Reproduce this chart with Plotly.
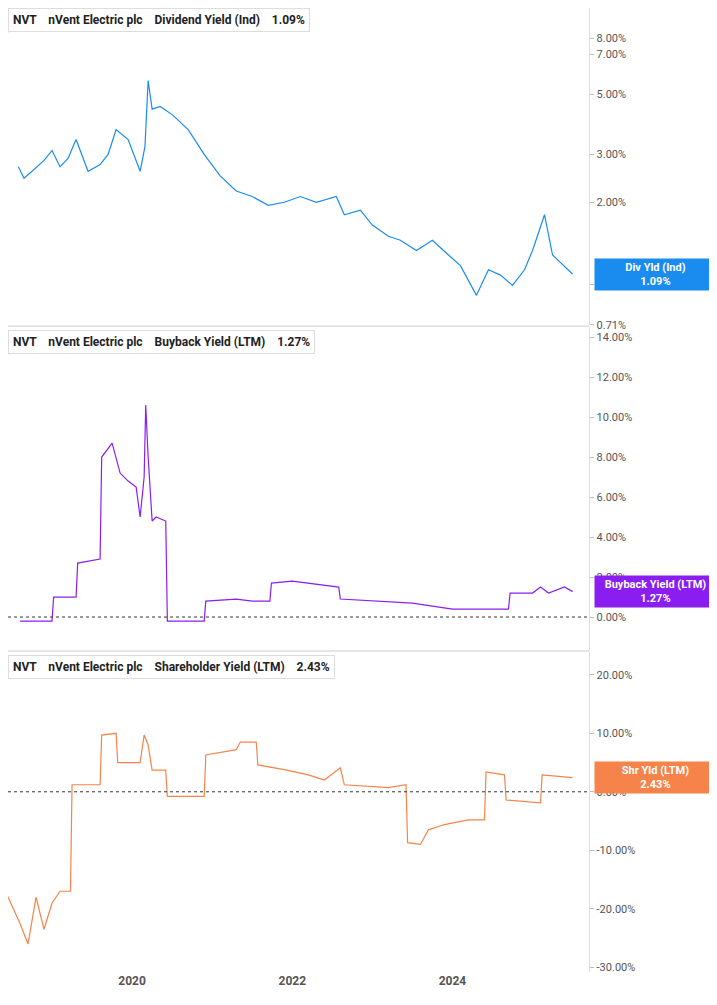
import pandas as pd
import plotly.graph_objects as go
from plotly.subplots import make_subplots

# fractional years -> values
div_t = [2018.58, 2018.65, 2018.75, 2018.9, 2019.0, 2019.1, 2019.2, 2019.3, 2019.45, 2019.6, 2019.7, 2019.8,
         2019.95, 2020.1, 2020.16, 2020.2, 2020.25, 2020.35, 2020.5, 2020.7, 2020.9, 2021.1, 2021.3, 2021.5,
         2021.7, 2021.9, 2022.1, 2022.3, 2022.55, 2022.65, 2022.85, 2023.0, 2023.2, 2023.35, 2023.55, 2023.75,
         2023.95, 2024.1, 2024.3, 2024.45, 2024.6, 2024.75, 2024.9, 2025.0, 2025.15, 2025.25, 2025.35, 2025.5]
div_v = [2.7, 2.45, 2.6, 2.85, 3.1, 2.7, 2.9, 3.4, 2.6, 2.75, 3.0, 3.7,
         3.4, 2.6, 3.2, 5.6, 4.4, 4.5, 4.2, 3.7, 3.0, 2.5, 2.2, 2.1,
         1.95, 2.0, 2.1, 2.0, 2.1, 1.8, 1.87, 1.65, 1.5, 1.45, 1.33, 1.45,
         1.28, 1.17, 0.91, 1.13, 1.08, 0.99, 1.13, 1.33, 1.8, 1.28, 1.2, 1.09]

bb_t = [2018.6, 2019.0, 2019.02, 2019.3, 2019.32, 2019.6, 2019.62, 2019.75, 2019.85, 2019.95, 2020.05,
        2020.1, 2020.15, 2020.17, 2020.2, 2020.25, 2020.3, 2020.42, 2020.44, 2020.9, 2020.92, 2021.3,
        2021.5, 2021.72, 2021.74, 2022.0, 2022.58, 2022.6, 2023.5, 2024.0, 2024.7, 2024.72, 2025.0,
        2025.1, 2025.2, 2025.4, 2025.5]
bb_v = [-0.2, -0.2, 1.0, 1.0, 2.7, 2.9, 8.0, 8.7, 7.2, 6.8, 6.5,
        5.0, 7.0, 10.6, 8.0, 4.8, 5.0, 4.8, -0.2, -0.2, 0.8, 0.9,
        0.8, 0.8, 1.7, 1.8, 1.5, 0.9, 0.7, 0.4, 0.4, 1.2, 1.2,
        1.5, 1.2, 1.5, 1.27]

shr_t = [2018.35, 2018.45, 2018.6, 2018.7, 2018.8, 2018.9, 2019.0, 2019.1, 2019.23, 2019.25, 2019.6,
         2019.62, 2019.8, 2019.82, 2020.1, 2020.15, 2020.2, 2020.25, 2020.42, 2020.44, 2020.9, 2020.92,
         2021.3, 2021.35, 2021.55, 2021.57, 2021.9, 2022.2, 2022.4, 2022.6, 2022.65, 2023.2, 2023.42,
         2023.44, 2023.6, 2023.7, 2023.9, 2024.2, 2024.4, 2024.42, 2024.65, 2024.67, 2025.1, 2025.12, 2025.5]
shr_v = [-16, -18, -22.5, -26, -18, -23.5, -19, -17, -17, 1.2, 1.2,
         9.7, 10, 5, 5, 9.7, 8, 3.7, 3.7, -0.8, -0.8, 6.3,
         7.2, 8.5, 8.5, 4.6, 3.8, 2.9, 2.0, 4.1, 1.2, 0.7, 1.2,
         -8.7, -9, -6.5, -5.6, -4.8, -4.8, 3.4, 2.9, -1.4, -1.9, 2.9, 2.43]


def to_dates(ts):
    return [pd.Timestamp("2018-01-01") + pd.Timedelta(days=(t - 2018) * 365.25) for t in ts]


BLUE, PURPLE, ORANGE = "#1a8cf0", "#8a1ef0", "#f5834a"
GREY = "#555555"
XEND = 0.82

fig = make_subplots(rows=3, cols=1, shared_xaxes=True, vertical_spacing=0.003)
fig.add_trace(go.Scatter(x=to_dates(div_t), y=div_v, line=dict(color=BLUE, width=1.2)), 1, 1)
fig.add_trace(go.Scatter(x=to_dates(bb_t), y=bb_v, line=dict(color=PURPLE, width=1.2)), 2, 1)
fig.add_trace(go.Scatter(x=to_dates(shr_t), y=shr_v, line=dict(color=ORANGE, width=1.2)), 3, 1)

fig.update_layout(
    width=709, height=989, margin=dict(l=0, r=0, t=0, b=25),
    plot_bgcolor="white", paper_bgcolor="white", showlegend=False,
    font=dict(family="Roboto", size=11, color=GREY),
)
fig.update_xaxes(domain=[0, XEND], range=to_dates([2018.45, 2025.71]), showgrid=False,
                 tickvals=to_dates([2020, 2022, 2024]), ticktext=["<b>2020</b>", "<b>2022</b>", "<b>2024</b>"],
                 tickfont=dict(size=12, color=GREY, family="Roboto"))
bb_ticks = list(range(0, 15, 2))
shr_ticks = [-30, -20, -10, 0, 10, 20]
fig.update_layout(
    yaxis=dict(domain=[0.671, 1], type="log", range=[-0.1505, 1.015], side="right",
               tickvals=[0.71, 1, 2, 3, 5, 7, 8],
               ticktext=["0.71%", "1.00%", "2.00%", "3.00%", "5.00%", "7.00%", "8.00%"]),
    yaxis2=dict(domain=[0.334, 0.669], range=[-1.65, 14.5], side="right",
                tickvals=bb_ticks, ticktext=[f"{v:.2f}%" for v in bb_ticks]),
    yaxis3=dict(domain=[0, 0.332], range=[-30.8, 23.9], side="right",
                tickvals=shr_ticks, ticktext=[f"{v:.2f}%" for v in shr_ticks]),
)
for ax in ["yaxis", "yaxis2", "yaxis3"]:
    fig.layout[ax].update(showgrid=False, ticks="outside", ticklen=4, tickcolor="#bbb",
                          showline=True, linecolor="#ddd", zeroline=False)

# separators and zero lines
for yy in [0.670, 0.333]:
    fig.add_shape(type="line", xref="paper", yref="paper", x0=0, x1=XEND, y0=yy, y1=yy,
                  line=dict(color="#ccc", width=1))
for r in ["y2", "y3"]:
    fig.add_shape(type="line", xref="paper", yref=r, x0=0, x1=XEND, y0=0, y1=0,
                  line=dict(color="#333", width=1, dash="dot"))

# header boxes
heads = [(1.003, BLUE, "NVT    nVent Electric plc    Dividend Yield (Ind)    1.09%"),
         (0.669, PURPLE, "NVT    nVent Electric plc    Buyback Yield (LTM)    1.27%"),
         (0.332, ORANGE, "NVT    nVent Electric plc    Shareholder Yield (LTM)    2.43%")]
for yy, col, txt in heads:
    fig.add_annotation(xref="paper", yref="paper", x=0.0, y=yy - 0.003, xanchor="left", yanchor="top",
                       text=f"<b>{txt}</b>", showarrow=False, font=dict(size=12, color="#222"),
                       bgcolor="white", bordercolor="#ddd", borderwidth=1, borderpad=4)
    fig.add_shape(type="rect", xref="paper", yref="paper", x0=0.0, x1=0.004,
                  y0=yy - 0.028, y1=yy - 0.004, fillcolor=col, line_width=0)

# end-value tags
tags = [("y", 0.0374, BLUE, "Div Yld (Ind)<br>1.09%"),
        ("y2", 1.27, PURPLE, "Buyback Yield (LTM)<br>1.27%"),
        ("y3", 2.43, ORANGE, "Shr Yld (LTM)<br>2.43%")]
for r, v, col, txt in tags:
    fig.add_annotation(xref="paper", yref=r, x=1, y=v, xanchor="right",
                       text=f"<b>{txt}</b>", showarrow=False, bgcolor=col, width=117,
                       font=dict(size=11, color="white"), borderpad=2)

fig.write_html("out.html")
